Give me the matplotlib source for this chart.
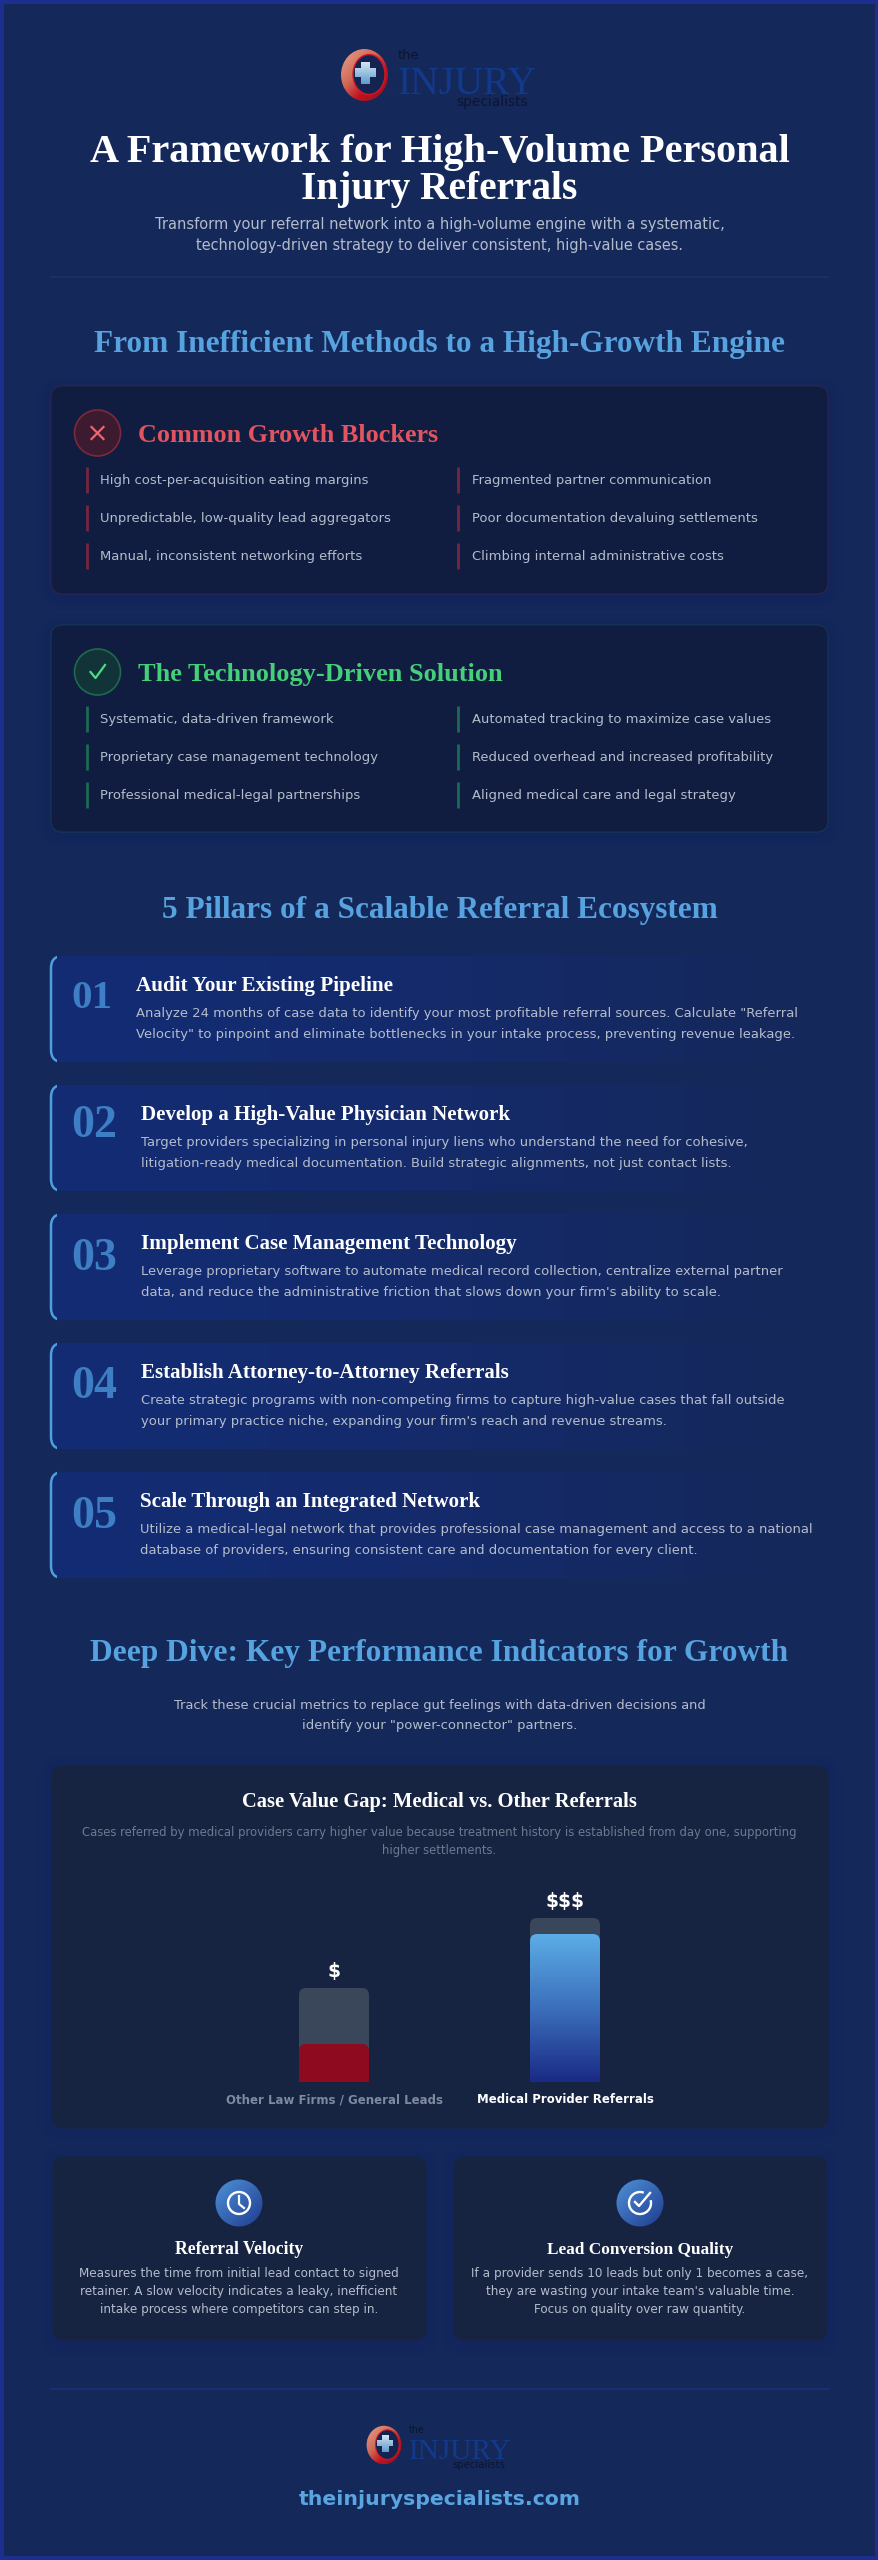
import numpy as np
from matplotlib import pyplot as plt
from matplotlib.patches import FancyBboxPatch, Circle, Ellipse, Rectangle, Arc
from matplotlib.colors import to_rgb

# text content and chart values
title_lines = ["A Framework for High-Volume Personal", "Injury Referrals"]
subtitle_lines = ["Transform your referral network into a high-volume engine with a systematic,",
                  "technology-driven strategy to deliver consistent, high-value cases."]
blockers_left = ["High cost-per-acquisition eating margins",
                 "Unpredictable, low-quality lead aggregators",
                 "Manual, inconsistent networking efforts"]
blockers_right = ["Fragmented partner communication",
                  "Poor documentation devaluing settlements",
                  "Climbing internal administrative costs"]
solution_left = ["Systematic, data-driven framework",
                 "Proprietary case management technology",
                 "Professional medical-legal partnerships"]
solution_right = ["Automated tracking to maximize case values",
                  "Reduced overhead and increased profitability",
                  "Aligned medical care and legal strategy"]
pillar_numbers = ["01", "02", "03", "04", "05"]
pillar_titles = ["Audit Your Existing Pipeline",
                 "Develop a High-Value Physician Network",
                 "Implement Case Management Technology",
                 "Establish Attorney-to-Attorney Referrals",
                 "Scale Through an Integrated Network"]
pillar_text = [
    ['Analyze 24 months of case data to identify your most profitable referral sources. Calculate "Referral',
     'Velocity" to pinpoint and eliminate bottlenecks in your intake process, preventing revenue leakage.'],
    ["Target providers specializing in personal injury liens who understand the need for cohesive,",
     "litigation-ready medical documentation. Build strategic alignments, not just contact lists."],
    ["Leverage proprietary software to automate medical record collection, centralize external partner",
     "data, and reduce the administrative friction that slows down your firm's ability to scale."],
    ["Create strategic programs with non-competing firms to capture high-value cases that fall outside",
     "your primary practice niche, expanding your firm's reach and revenue streams."],
    ["Utilize a medical-legal network that provides professional case management and access to a national",
     "database of providers, ensuring consistent care and documentation for every client."],
]
pillar_title_x = [136, 141, 141, 141, 140]
pillar_title_w = [257, 370, 378, 368, 340]

bar_categories = ["Other Law Firms / General Leads", "Medical Provider Referrals"]
bar_symbols = ["$", "$$$"]
bar_track = [94, 164]
bar_fill = [38, 148]

kpi_titles = ["Referral Velocity", "Lead Conversion Quality"]
kpi_text = [["Measures the time from initial lead contact to signed",
             "retainer. A slow velocity indicates a leaky, inefficient",
             "intake process where competitors can step in."],
            ["If a provider sends 10 leads but only 1 becomes a case,",
             "they are wasting your intake team's valuable time.",
             "Focus on quality over raw quantity."]]

BG = "#15285a"
SERIF = "Liberation Serif"
SANS = "DejaVu Sans"
BODY = "#b4bccb"
HEAD = "#56a3e0"

W, H = 879, 2560
fig = plt.figure(figsize=(W / 100, H / 100), dpi=100, facecolor=BG)
ax = fig.add_axes([0, 0, 1, 1])
ax.set_xlim(0, W)
ax.set_ylim(H, 0)
ax.axis("off")


def label(x, y, s, px, color="white", family=SANS, weight="normal", ha="left", fit=None, z=10):
    # y is the visual middle of the line, px the font size in pixels
    t = ax.text(x, y + 0.34 * px, s, fontsize=px * 0.72, color=color, family=family,
                weight=weight, ha=ha, va="baseline", zorder=z)
    if fit:
        for _ in range(2):  # hinting makes width not quite linear in size
            width = t.get_window_extent(fig.canvas.get_renderer()).width
            t.set_fontsize(t.get_fontsize() * fit / width)
    return t


def rounded(x0, y0, x1, y1, r=12, **kw):
    return FancyBboxPatch((x0 + r, y0 + r), x1 - x0 - 2 * r, y1 - y0 - 2 * r,
                          boxstyle="round,pad=%g,rounding_size=%g" % (r, r), **kw)


def gradient(patch, x0, y0, x1, y1, stops, angle=0.0, z=3, target=None):
    # fill the box with a colour ramp and clip it to the patch
    target = target or ax
    n = 200
    xx, yy = np.meshgrid(np.linspace(0, 1, n), np.linspace(0, 1, n))
    u = xx if angle == 0 else (yy if angle == 90 else (xx + yy) / 2)
    pos = [s[0] for s in stops]
    rgb = np.array([to_rgb(s[1]) for s in stops])
    img = np.dstack([np.interp(u, pos, rgb[:, i]) for i in range(3)])
    im = target.imshow(img, extent=(x0, x1, y1, y0), aspect="auto", zorder=z, interpolation="bilinear")
    im.set_clip_path(patch)
    return im


def card(x0, y0, x1, y1, color, edge=None, r=12, glow=1.0):
    for grow, a in [(14, 0.04), (9, 0.05), (4, 0.07)]:
        ax.add_patch(rounded(x0 - grow, y0 - grow + 3, x1 + grow, y1 + grow + 3, r=r + grow,
                             fc="#0e2270", ec="none", alpha=a * glow, zorder=1))
    ax.add_patch(rounded(x0, y0, x1, y1, r=r, fc=color, ec=edge or color, lw=1, zorder=2))


def logo(cx, cy, s):
    ring = Ellipse((cx, cy), 47 * s, 52 * s, fc="none", ec="none", transform=ax.transData)
    ax.add_patch(ring)
    gradient(ring, cx - 24 * s, cy - 26 * s, cx + 24 * s, cy + 26 * s,
             [(0, "#eaa58e"), (0.4, "#cf6a58"), (0.65, "#c01422"), (1, "#8e0f1c")], angle=45)
    ax.add_patch(Ellipse((cx + 4.5 * s, cy - 0.5 * s), 32 * s, 40 * s, fc="#14234f", ec="#d01828", lw=1.0 * s, zorder=4))
    arm_v = Rectangle((cx - 3 * s, cy - 13 * s), 9 * s, 22 * s, fc="none", ec="none")
    arm_h = Rectangle((cx - 9 * s, cy - 7 * s), 21 * s, 9 * s, fc="none", ec="none")
    for arm in (arm_v, arm_h):
        ax.add_patch(arm)
        gradient(arm, cx - 9 * s, cy - 13 * s, cx + 12 * s, cy + 9 * s,
                 [(0, "#d4e6f4"), (1, "#5f9acb")], angle=90, z=5)
    label(cx + 33.5 * s, cy - 20 * s, "the", 13 * s, color="#0c1430")
    label(cx + 33.5 * s, cy + 4 * s, "INJURY", 44 * s, color="#123a8c", family=SERIF, fit=139 * s)
    label(cx + 92 * s, cy + 26 * s, "specialists", 14 * s, color="#0c1430", fit=72 * s)


# page border
for r in [Rectangle((0, 0), W, 4, fc="#1c2f8e", ec="none", zorder=20),
          Rectangle((0, H - 4), W, 4, fc="#1c2f8e", ec="none", zorder=20),
          Rectangle((0, 0), 4, H, fc="#1c2f8e", ec="none", zorder=20),
          Rectangle((W - 4, 0), 4, H, fc="#1c2f8e", ec="none", zorder=20)]:
    ax.add_patch(r)

# header
logo(364.5, 75, 1)
label(439.5, 148, title_lines[0], 42, family=SERIF, weight="bold", ha="center", fit=702)
label(439.5, 185, title_lines[1], 42, family=SERIF, weight="bold", ha="center", fit=277)
label(439.5, 224, subtitle_lines[0], 15.5, color=BODY, ha="center", fit=568)
label(439.5, 245, subtitle_lines[1], 15.5, color=BODY, ha="center", fit=489)
ax.plot([51, 828], [277, 277], color="#1a2f66", lw=1.5, zorder=2)

label(439.5, 341, "From Inefficient Methods to a High-Growth Engine", 32, color=HEAD, family=SERIF,
      weight="bold", ha="center", fit=691)


def compare_card(y0, y1, title, title_w, color, icon_fc, icon_ec, bar_color, left, right):
    card(51, y0, 828, y1, "#101d40", edge=icon_ec + "40", glow=0.5)
    cy = y0 + 47
    ax.add_patch(Circle((97.5, cy), 23, fc=icon_fc, ec=icon_ec, lw=1.2, zorder=4))
    label(138, cy, title, 26, color=color, family=SERIF, weight="bold", fit=title_w)
    for col_x, items in [(87, left), (458.5, right)]:
        for i, item in enumerate(items):
            mid = y0 + 94 + 38 * i
            ax.plot([col_x, col_x], [mid - 13, mid + 13], color=bar_color, lw=2.0, zorder=4, solid_capstyle="butt")
            label(col_x + 13.5, mid, item, 13.15, color=BODY)
    return cy


cy = compare_card(386, 594, "Common Growth Blockers", 300, "#e2545f", "#3c1a30", "#7a2a3c", "#73263f",
                  blockers_left, blockers_right)
ax.plot([91.5, 103.5], [cy - 6, cy + 6], color="#f0666e", lw=1.6, zorder=5)
ax.plot([91.5, 103.5], [cy + 6, cy - 6], color="#f0666e", lw=1.6, zorder=5)

cy = compare_card(625, 832, "The Technology-Driven Solution", 366, "#45cf78", "#123438", "#1f6a4c", "#1c6a56",
                  solution_left, solution_right)
ax.plot([90.5, 95.5, 105], [cy + 0, cy + 6, cy - 7], color="#4ade80", lw=1.6, zorder=5)

# pillars
label(439.5, 907, "5 Pillars of a Scalable Referral Ecosystem", 32, color=HEAD, family=SERIF,
      weight="bold", ha="center", fit=556)
for i in range(5):
    top = 956 + 129 * i
    back = rounded(51, top, 828, top + 106, r=12, fc="none", ec="none")
    ax.add_patch(back)
    gradient(back, 51, top, 828, top + 106, [(0, "#132c74"), (0.45, "#142b6c"), (1, BG)], z=2)
    # left accent: a rounded stripe, hidden behind the inside of the card
    stripe = rounded(51, top, 100, top + 106, r=12, fc="none", ec="#4f9fde", lw=1.8, zorder=3)
    ax.add_patch(stripe)
    stripe.set_clip_path(Rectangle((49, top - 2), 8, 110, transform=ax.transData))
    num_off = [0, 0, 4, 3, 4][i]
    label(71, top + 38 + num_off, pillar_numbers[i], 40, color="#3d7ec4", family=SERIF, weight="bold",
          fit=41 if i == 0 else 46)
    label(pillar_title_x[i], top + 29, pillar_titles[i], 19, family=SERIF, weight="bold", fit=pillar_title_w[i])
    label(pillar_title_x[i], top + 56.6, pillar_text[i][0], 13.1, color=BODY)
    label(pillar_title_x[i], top + 77.4, pillar_text[i][1], 13.1, color=BODY)

# deep dive
label(439.5, 1650, "Deep Dive: Key Performance Indicators for Growth", 32, color=HEAD, family=SERIF,
      weight="bold", ha="center", fit=693)
label(439.5, 1704, "Track these crucial metrics to replace gut feelings with data-driven decisions and",
      14.4, color=BODY, ha="center", fit=535)
label(439.5, 1724, 'identify your "power-connector" partners.', 14.4, color=BODY, ha="center", fit=274)

card(52, 1766, 828, 2128, "#172441")
label(439.5, 1800, "Case Value Gap: Medical vs. Other Referrals", 21, family=SERIF, weight="bold", ha="center", fit=397)
label(439.5, 1832, "Cases referred by medical providers carry higher value because treatment history is established from day one, supporting",
      12.6, color="#6e7990", ha="center", fit=719)
label(439.5, 1850, "higher settlements.", 12.6, color="#6e7990", ha="center", fit=114)

# bar chart on its own axes, 1 y unit = 1 pixel
cax = fig.add_axes([0, (H - 2082) / H, 1, 190 / H])
cax.patch.set_alpha(0)
for sp in cax.spines.values():
    sp.set_visible(False)
cax.set_ylim(0, 190)
cax.set_xlim(-334 / 231, (W - 334) / 231)
cax.set_yticks([])
cax.set_xticks(range(len(bar_categories)), bar_categories, fontsize=8.45, fontweight="bold", family=SANS)
cax.tick_params(axis="x", length=0, pad=8)
for tick, c in zip(cax.get_xticklabels(), ["#7f8aa0", "white"]):
    tick.set_color(c)

xs = np.arange(len(bar_track))
tracks = cax.bar(xs, bar_track, width=70 / 231, color="#3a4659", zorder=2)
fills = cax.bar(xs, bar_fill, width=70 / 231, color=["#8d0a1f", "#1a2a85"], zorder=3)
for x, v, s in zip(xs, bar_track, bar_symbols):
    cax.text(x, v + 17, s, color="white", fontsize=13.5, fontweight="bold", ha="center", va="center", family=SANS)

fig.canvas.draw()
to_px = ax.transData.inverted()
for j, group in enumerate([tracks, fills]):
    for k, bar in enumerate(group):
        (bx0, by0), (bx1, by1) = to_px.transform(bar.get_window_extent().get_points())
        y_top, y_bot = min(by0, by1), max(by0, by1)
        clip = rounded(bx0, y_top, bx1, y_bot + 12, r=7, transform=ax.transData)
        bar.set_clip_path(clip)
        if j == 1 and k == 1:
            # gradient on the medical bar, in the bar's own data range
            im = gradient(clip, bar.get_x(), 0, bar.get_x() + bar.get_width(), 1,
                          [(0, "#5cade6"), (0.5, "#3b6fbb"), (1, "#1a2a85")], angle=90, z=4, target=cax)
            im.set_extent((bar.get_x(), bar.get_x() + bar.get_width(), 0, bar.get_height()))
cax.set_xlim(-334 / 231, (W - 334) / 231)
cax.set_ylim(0, 190)

# KPI cards
for i, (x0, x1, cx) in enumerate([(53, 426, 239), (454, 827, 640)]):
    card(x0, 2157, x1, 2340, "#172441")
    disc = Circle((cx, 2203), 23.5, fc="none", ec="none")
    ax.add_patch(disc)
    gradient(disc, cx - 24, 2179, cx + 24, 2227, [(0, "#4f93da"), (1, "#1f3a8e")], angle=45, z=4)
    label(cx, 2248, kpi_titles[i], 18, family=SERIF, weight="bold", ha="center", fit=[128, 186][i])
    for n, line in enumerate(kpi_text[i]):
        label(cx, 2273 + 17.7 * n, line, 12.06, color=BODY, ha="center")

ax.add_patch(Circle((239, 2203), 11, fc="none", ec="white", lw=1.7, zorder=6))
ax.plot([239, 239, 244], [2196, 2204, 2208], color="white", lw=1.6, zorder=6)
ax.add_patch(Arc((640, 2203), 22, 22, theta1=-15, theta2=290, ec="white", lw=1.7, zorder=6))
ax.plot([635, 639, 650], [2202, 2206, 2193], color="white", lw=1.7, zorder=6)

# footer
ax.plot([51, 828], [2389, 2389], color="#1a2f72", lw=1.5, zorder=2)
logo(384, 2445, 0.74)
label(439.5, 2498, "theinjuryspecialists.com", 21, color="#5aa5e0", weight="bold", ha="center", fit=283)

fig.savefig("out.png", dpi=100, facecolor=BG)
